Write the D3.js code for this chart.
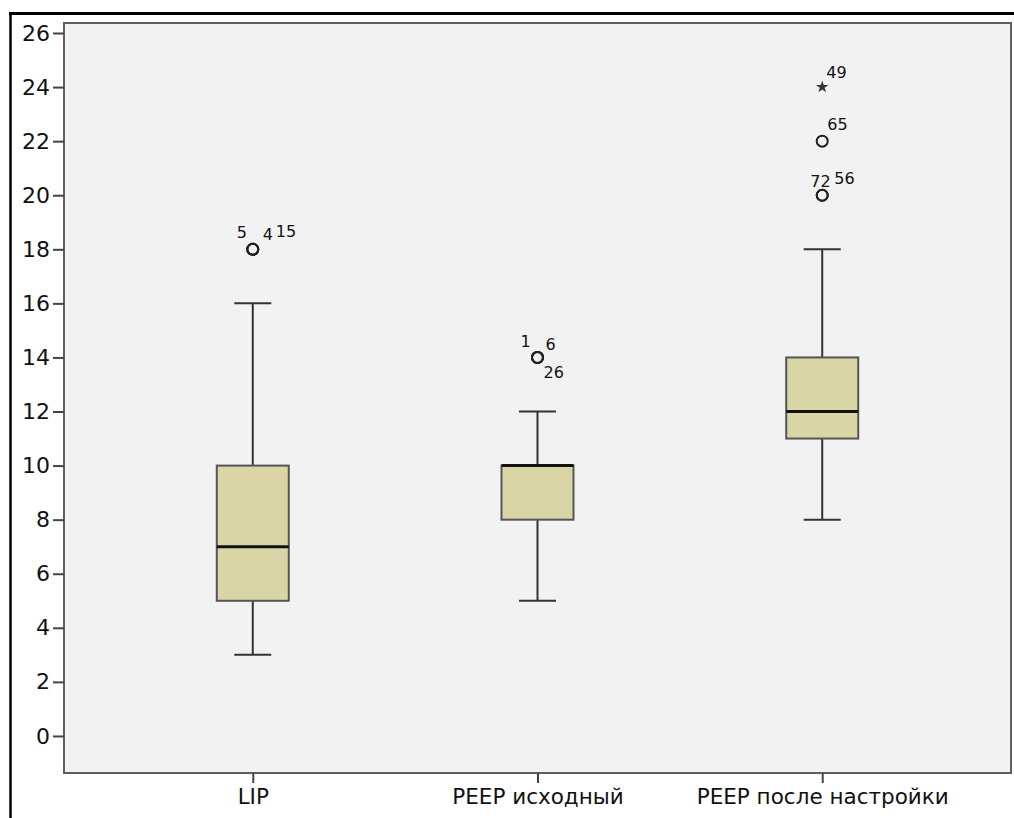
<!DOCTYPE html>
<html>
<head>
<meta charset="utf-8">
<script src="https://cdn.jsdelivr.net/npm/d3@7/dist/d3.min.js"></script>
<style>
  html, body { margin: 0; padding: 0; background: #ffffff; }
  svg { display: block; }
  text { font-family: "DejaVu Sans", sans-serif; fill: #111; }
</style>
</head>
<body>
<svg id="chart" width="1014" height="818"></svg>
<script>
// Groups shown along the x axis
const categories = ["LIP", "PEEP исходный", "PEEP после настройки"];

// Five-number summaries per group
const whiskerLow = [3, 5, 8];
const q1 = [5, 8, 11];
const median = [7, 10, 12];
const q3 = [10, 10, 14];
const whiskerHigh = [16, 12, 18];

// Outlying cases: group index, value, kind, case label
const outlierGroup = [0, 0, 0, 1, 1, 1, 2, 2, 2, 2];
const outlierValue = [18, 18, 18, 14, 14, 14, 20, 20, 22, 24];
const outlierKind = ["o", "o", "o", "o", "o", "o", "o", "o", "o", "*"];
const outlierLabel = ["5", "4", "15", "1", "6", "26", "72", "56", "65", "49"];

// Y axis ticks
const yTicks = [0, 2, 4, 6, 8, 10, 12, 14, 16, 18, 20, 22, 24, 26];

// Label placement around each marker (pixels)
const labelOffset = {
  "5": [-16, -11], "4": [10, -9], "15": [23, -12],
  "1": [-17, -10], "6": [8, -7], "26": [6, 21],
  "72": [-12, -8], "56": [12, -11], "65": [5, -11], "49": [4, -9]
};

const svg = d3.select("#chart");
const plot = { left: 64, top: 23, right: 1011, bottom: 773 };

// Outer frame strokes
svg.append("line").attr("x1", 9).attr("x2", 1014).attr("y1", 13.5).attr("y2", 13.5)
  .attr("stroke", "#000").attr("stroke-width", 3);
svg.append("line").attr("x1", 10.5).attr("x2", 10.5).attr("y1", 12).attr("y2", 818)
  .attr("stroke", "#000").attr("stroke-width", 2.5);

const x = d3.scalePoint().domain(categories).range([plot.left, plot.right]).padding(0.663);
const y = d3.scaleLinear().domain([-1.37, 26.37]).range([plot.bottom, plot.top]);

// Plot background and frame
svg.append("rect")
  .attr("x", plot.left).attr("y", plot.top)
  .attr("width", plot.right - plot.left).attr("height", plot.bottom - plot.top)
  .attr("fill", "#f2f2f2").attr("stroke", "#5f5f5f").attr("stroke-width", 2);

// Y axis
const yAxis = svg.append("g").attr("transform", `translate(${plot.left},0)`)
  .call(d3.axisLeft(y).tickValues(yTicks).tickSize(11).tickPadding(3).tickFormat(d3.format("d")));
yAxis.select(".domain").remove();
yAxis.selectAll(".tick line").attr("stroke", "#444").attr("stroke-width", 2);
yAxis.selectAll(".tick text").style("font-size", "22px").attr("fill", "#111")
  .style("font-family", "\"DejaVu Sans\", sans-serif");

// X axis
const xAxis = svg.append("g").attr("transform", `translate(0,${plot.bottom})`)
  .call(d3.axisBottom(x).tickSize(10).tickPadding(6));
xAxis.select(".domain").remove();
xAxis.selectAll(".tick line").attr("stroke", "#444").attr("stroke-width", 2);
xAxis.selectAll(".tick text").style("font-size", "21.5px").attr("fill", "#111")
  .style("font-family", "\"DejaVu Sans\", sans-serif");

const boxW = 72;
const capW = 37;

const groups = svg.append("g").selectAll("g").data(categories).join("g");

// Whisker stems
groups.append("line")
  .attr("x1", d => x(d)).attr("x2", d => x(d))
  .attr("y1", (d, i) => y(whiskerHigh[i])).attr("y2", (d, i) => y(q3[i]))
  .attr("stroke", "#333").attr("stroke-width", 2);
groups.append("line")
  .attr("x1", d => x(d)).attr("x2", d => x(d))
  .attr("y1", (d, i) => y(q1[i])).attr("y2", (d, i) => y(whiskerLow[i]))
  .attr("stroke", "#333").attr("stroke-width", 2);

// Whisker caps
[whiskerHigh, whiskerLow].forEach(arr => {
  groups.append("line")
    .attr("x1", d => x(d) - capW / 2).attr("x2", d => x(d) + capW / 2)
    .attr("y1", (d, i) => y(arr[i])).attr("y2", (d, i) => y(arr[i]))
    .attr("stroke", "#333").attr("stroke-width", 2);
});

// Boxes
groups.append("rect")
  .attr("x", d => x(d) - boxW / 2).attr("width", boxW)
  .attr("y", (d, i) => y(q3[i])).attr("height", (d, i) => y(q1[i]) - y(q3[i]))
  .attr("fill", "#d9d5a6").attr("stroke", "#555").attr("stroke-width", 2);

// Medians
groups.append("line")
  .attr("x1", d => x(d) - boxW / 2).attr("x2", d => x(d) + boxW / 2)
  .attr("y1", (d, i) => y(median[i])).attr("y2", (d, i) => y(median[i]))
  .attr("stroke", "#111").attr("stroke-width", 3);

// Outliers
const outliers = outlierValue.map((v, i) => ({
  cat: categories[outlierGroup[i]], value: v, kind: outlierKind[i], label: outlierLabel[i]
}));

const og = svg.append("g");
og.selectAll("circle").data(outliers.filter(d => d.kind === "o")).join("circle")
  .attr("cx", d => x(d.cat)).attr("cy", d => y(d.value)).attr("r", 5.5)
  .attr("fill", "none").attr("stroke", "#222").attr("stroke-width", 2);

og.selectAll("path.star").data(outliers.filter(d => d.kind === "*")).join("path")
  .attr("class", "star")
  .attr("transform", d => `translate(${x(d.cat)},${y(d.value)})`)
  .attr("d", d3.symbol(d3.symbolStar, 48))
  .attr("fill", "#333");

og.selectAll("text").data(outliers).join("text")
  .attr("x", d => x(d.cat) + labelOffset[d.label][0])
  .attr("y", d => y(d.value) + labelOffset[d.label][1])
  .style("font-size", "16px")
  .text(d => d.label);
</script>
</body>
</html>
